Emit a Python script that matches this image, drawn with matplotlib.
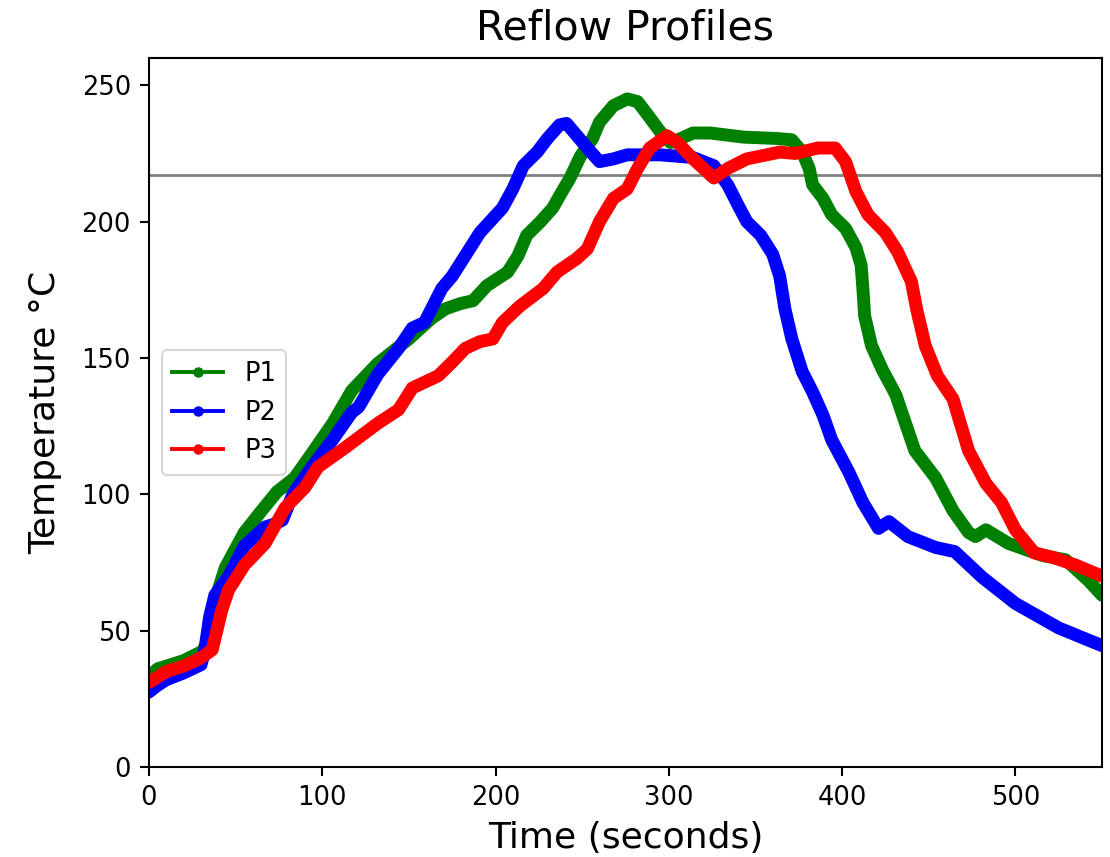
import matplotlib
matplotlib.use("Agg")
import matplotlib.pyplot as plt
from matplotlib.lines import Line2D

# ---- data ----
p1_time = [0, 5, 10, 20, 31, 33, 40, 44, 55, 65, 74, 84, 94, 106, 117, 132, 150, 163, 171,
           180, 187, 195, 207, 213, 218, 226, 233, 237, 243, 249, 256, 260, 268, 276, 282,
           288, 295, 301, 307, 314, 324, 343, 362, 371, 377, 381, 383, 389, 394, 402, 408,
           411, 412, 413, 417, 423, 431, 435, 442, 454, 464, 473, 477, 483, 496, 516, 529,
           542, 550]
p1_temp = [33, 36, 37, 39, 42.5, 45, 65, 73, 86, 94, 101, 106, 115, 126, 138, 148, 157, 164.5,
           168, 170, 171, 176.5, 181.5, 187.5, 195, 200, 205, 209.5, 216, 224, 230.5, 236.5,
           242.5, 245, 244, 239, 233, 229, 230.5, 232.5, 232.5, 231, 230.5, 230, 225.5, 219.5,
           213.5, 208.5, 202.5, 197.5, 190.5, 184, 175.5, 165.5, 154.5, 146, 136.5, 129, 116,
           106, 94, 86, 84.5, 87, 82, 77.5, 76, 68.5, 63]

p2_time = [0, 5, 10, 20, 30, 32, 35, 38, 46, 55, 67, 72, 77, 83, 94, 106, 117, 121, 132, 144,
           152, 159, 165, 169, 175, 183, 191, 204, 210, 216, 224, 230, 237, 241, 247, 253, 260,
           268, 276, 295, 314, 326, 334, 340, 345, 353, 360, 364, 367, 371, 377, 383, 389, 394,
           404, 412, 421, 427, 438, 454, 465, 481, 500, 525, 550]
p2_temp = [27.5, 30, 32, 34.5, 37.5, 42, 55, 63, 70, 81, 88, 89, 90.5, 100, 110, 120, 130, 132,
           144, 153.5, 161, 163, 170.5, 175.5, 180, 188, 196, 205, 212, 220.5, 225.5, 230.5,
           235.5, 236, 231.5, 227, 222, 223, 224.5, 224.5, 223.5, 220.5, 213.5, 206, 200, 195,
           188, 180, 168, 157, 145, 137.5, 129, 120, 108, 97, 87.5, 90, 84.5, 80.5, 79, 69.5,
           60, 51, 44.5]

p3_time = [0, 5, 10, 20, 30, 36.5, 42, 46, 55, 67, 78.5, 90, 97.5, 113, 132, 144, 152, 167,
           175, 182.5, 191, 198.5, 204, 214, 227.5, 235.5, 247, 253, 260, 268, 276, 282, 289,
           299, 305, 314, 326, 334, 345, 364, 373, 386, 396, 402, 408, 415, 425, 432, 440, 443,
           448, 455, 464, 473, 483, 492, 500, 511, 521, 535, 550]
p3_temp = [31, 33, 35, 37, 40, 43, 57.5, 65, 74, 82, 95, 102.5, 110, 117, 126, 131, 139, 143.5,
           148.5, 153.5, 156, 157, 163, 169, 175.5, 181.5, 186.5, 190, 200, 208.5, 212, 219.5,
           227, 231.5, 229, 223, 216, 219.5, 223, 225.5, 225, 227, 227, 222, 211, 202.5, 196,
           189, 178, 168, 154.5, 143.5, 135, 116, 104, 97, 87, 78.5, 77, 74, 70]

series_labels = ["P1", "P2", "P3"]
series_colors = ["green", "blue", "red"]
liquidus = 217

# ---- figure ----
fig = plt.figure(figsize=(11.1, 8.57), dpi=100)
ax = fig.add_axes([0.1342, 0.105, 0.8586, 0.8273])

ax.axhline(liquidus, color="gray", lw=2.0, zorder=1)

all_t = [p1_time, p2_time, p3_time]
all_T = [p1_temp, p2_temp, p3_temp]
handles = []
for t, T, c, lab in zip(all_t, all_T, series_colors, series_labels):
    ax.plot(t, T, color=c, lw=9.3, solid_joinstyle="round", solid_capstyle="round", zorder=2)
    handles.append(Line2D([], [], color=c, lw=2.8, marker=".", markersize=13, label=lab))

ax.set_xlim(0, 550)
ax.set_ylim(0, 260)
ax.set_xticks([0, 100, 200, 300, 400, 500])
ax.set_yticks([0, 50, 100, 150, 200, 250])

for s in ax.spines.values():
    s.set_linewidth(1.5)
ax.tick_params(axis="both", labelsize=18.5, length=6.5, width=1.5, pad=6.5)

ax.set_title("Reflow Profiles", fontsize=29.5, pad=13)
ax.set_xlabel("Time (seconds)", fontsize=26, labelpad=7)
ax.set_ylabel("Temperature \u00b0C", fontsize=26, labelpad=14)

leg = ax.legend(handles=handles, loc="center left", fontsize=18.5,
                borderpad=0.4, labelspacing=0.5, handlelength=2.0, handletextpad=0.8,
                borderaxespad=0.5)
leg.get_frame().set_linewidth(1.5)

fig.savefig("out.png", dpi=100)
